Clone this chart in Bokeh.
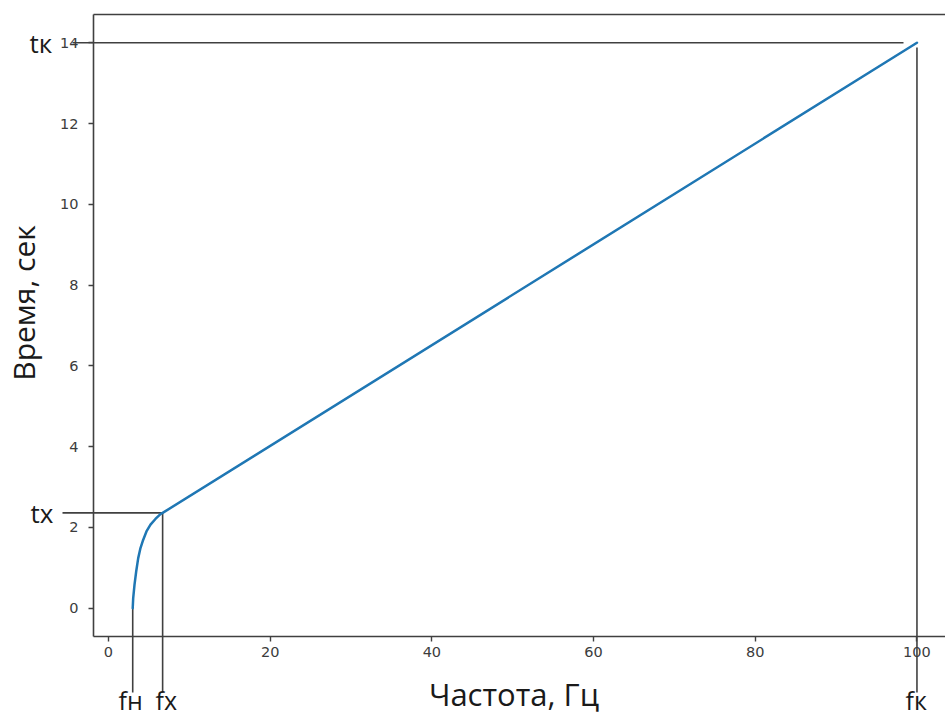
import math
from bokeh.plotting import figure
from bokeh.models import Label, FixedTicker, Range1d, LinearAxis
from bokeh.embed import file_html
from bokeh.resources import INLINE

# ---------------- data ----------------
freq_curve = [3.0, 3.06, 3.22, 3.43, 3.68, 3.96, 4.29, 4.70, 5.20, 5.81, 6.43, 6.7]
time_curve = [0.0, 0.25, 0.58, 0.91, 1.24, 1.49, 1.69, 1.90, 2.07, 2.21, 2.33, 2.36]
f_n = 3.0      # fн
f_x = 6.7      # fх
f_k = 100.0    # fк
t_x = 2.36     # tх
t_k = 14.0     # tк
x_ticks = [0, 20, 40, 60, 80, 100]
y_ticks = [0, 2, 4, 6, 8, 10, 12, 14]
x_title = "Частота, Гц"
y_title = "Время, сек"
lbl_tk, lbl_tx, lbl_fn, lbl_fx, lbl_fk = "tк", "tх", "fн", "fх", "fк"

# ---------------- layout ----------------
W, H = 945, 716
SPINE_L, SPINE_B = 93, 636                  # axes box in page pixels
x_lo, y_lo, y_hi = -1.85, -0.7, 14.7        # data values at the spines
PX_X, PX_Y = 8.085, 40.39                   # pixels per data unit

def fx_px(px):
    return x_lo + (px - SPINE_L) / PX_X

def ty_px(py):
    return y_lo + (SPINE_B - py) / PX_Y

x_hi = fx_px(W)
GUIDE = "#404040"
TEXT = "#1a1a1a"

p = figure(width=W, height=H, output_backend="svg", toolbar_location=None,
           x_range=Range1d(fx_px(0), fx_px(W)), y_range=Range1d(ty_px(H), ty_px(0)),
           min_border=0)
p.outline_line_color = None
p.grid.visible = False
p.background_fill_color = "white"
p.border_fill_color = "white"

xa, ya = p.xaxis[0], p.yaxis[0]
xa.fixed_location = y_lo
xa.bounds = (x_lo, x_hi)
ya.fixed_location = x_lo
ya.bounds = (y_lo, y_hi)
for ax in (xa, ya):
    ax.axis_line_color = GUIDE
    ax.axis_line_width = 1.6
    ax.major_tick_line_color = GUIDE
    ax.major_tick_line_width = 1.4
    ax.major_tick_out = 5
    ax.major_tick_in = 0
    ax.minor_tick_out = 0
    ax.minor_tick_in = 0
    ax.major_label_text_font = "DejaVu Sans"
    ax.major_label_text_font_size = "14.5px"
    ax.major_label_text_color = "#3c3c3c"
xa.ticker = FixedTicker(ticks=x_ticks, minor_ticks=[])
ya.ticker = FixedTicker(ticks=y_ticks, minor_ticks=[])
xa.major_label_standoff = 5
ya.major_label_standoff = 10

# top spine
top = LinearAxis(fixed_location=y_hi, bounds=(x_lo, x_hi),
                 ticker=FixedTicker(ticks=[], minor_ticks=[]),
                 axis_line_color=GUIDE, axis_line_width=1.6,
                 major_tick_out=0, major_tick_in=0, minor_tick_out=0, minor_tick_in=0,
                 major_label_text_font_size="0px")
p.add_layout(top, "above")

# guide lines (ends placed in page pixels)
tk_start, tk_end = fx_px(72), fx_px(903)
tx_start = fx_px(62)
fk_top = ty_px(47)
f_bottom = ty_px(692)
p.segment(x0=[tk_start, tx_start, f_n, f_x, f_k],
          y0=[t_k, t_x, time_curve[0], t_x, fk_top],
          x1=[tk_end, f_x, f_n, f_x, f_k],
          y1=[t_k, t_x, f_bottom, f_bottom, f_bottom],
          line_color=GUIDE, line_width=1.6)

# the sweep curve
p.line(freq_curve + [f_k], time_curve + [t_k], line_color="#1f77b4",
       line_width=2.5, line_join="round", line_cap="round")

# labels: (px, py) is the wanted baseline point in page pixels
SHIFT = 0.39   # anchor correction, in em

def add_label(text, px, py, size, angle=0.0, align="left"):
    if angle:
        px -= SHIFT * size
    else:
        py -= SHIFT * size
    p.add_layout(Label(x=fx_px(px), y=ty_px(py), text=text, text_font="Open Sans",
                       text_font_size=f"{size}px", text_color=TEXT, text_align=align,
                       text_baseline="alphabetic", angle=angle))

add_label(lbl_tk, 29, 52.7, 26)
add_label(lbl_tx, 30, 522.7, 26)
add_label(lbl_fn, 118, 709, 25)
add_label(lbl_fx, 155, 709, 25)
add_label(lbl_fk, 905, 709, 25)
add_label(x_title, 513.5, 706, 31, align="center")
add_label(y_title, 34.3, 302.5, 30, angle=math.pi / 2, align="center")

open("out.html", "w").write(file_html(p, INLINE))
